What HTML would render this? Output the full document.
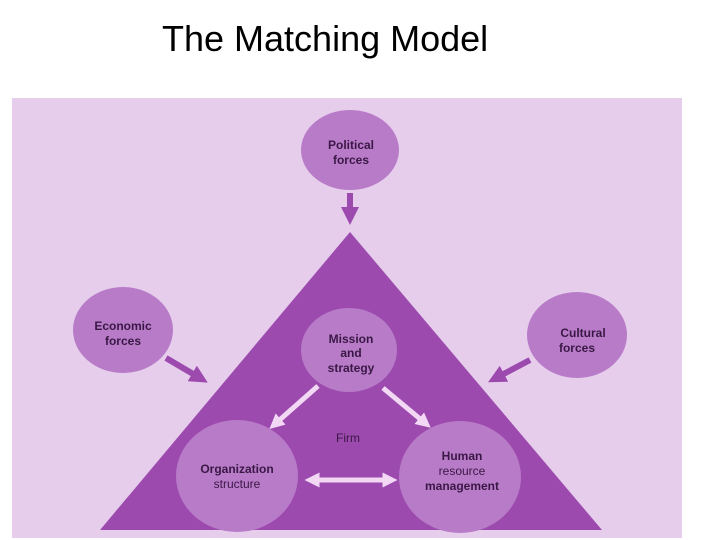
<!DOCTYPE html>
<html><head><style>
html,body{margin:0;padding:0;background:#fff;width:720px;height:540px;overflow:hidden}
.t{position:absolute;left:162px;top:18px;font:36px "Liberation Sans",sans-serif;color:#000}
</style></head><body>
<div class="t">The Matching Model</div>
<svg width="720" height="540" style="position:absolute;left:0;top:0">
<defs>
<marker id="pa" markerWidth="3" markerHeight="3" refX="1.5" refY="1.5" orient="auto"><path d="M0,0L3,1.5L0,3z" fill="#9c4aae"/></marker>
<marker id="la" markerWidth="3" markerHeight="3" refX="1.5" refY="1.5" orient="auto"><path d="M0,0L3,1.5L0,3z" fill="#f2d8f4"/></marker>
<marker id="ls" markerWidth="3" markerHeight="3" refX="1.5" refY="1.5" orient="auto-start-reverse"><path d="M0,0L3,1.5L0,3z" fill="#f2d8f4"/></marker>
</defs>
<rect x="12" y="98" width="670" height="440" fill="#e6cdec"/>
<polygon points="350,232 100,530 602,530" fill="#9c4aae"/>
<g fill="#b87bc8">
<ellipse cx="350" cy="150" rx="49" ry="40"/>
<ellipse cx="123" cy="330" rx="50" ry="43"/>
<ellipse cx="577" cy="335" rx="50" ry="43"/>
<ellipse cx="349" cy="350" rx="48" ry="42"/>
<ellipse cx="237" cy="476" rx="61" ry="56"/>
<ellipse cx="460" cy="477" rx="61" ry="56"/>
</g>
<g stroke="#9c4aae" stroke-width="6" fill="none">
<line x1="350" y1="193" x2="350" y2="216" marker-end="url(#pa)"/>
<line x1="166" y1="358" x2="200" y2="378" marker-end="url(#pa)"/>
<line x1="530" y1="360" x2="496" y2="378" marker-end="url(#pa)"/>
</g>
<g stroke="#f2d8f4" stroke-width="5" fill="none">
<line x1="318" y1="386" x2="275" y2="424" marker-end="url(#la)"/>
<line x1="383" y1="388" x2="425" y2="423" marker-end="url(#la)"/>
<line x1="312" y1="480" x2="390" y2="480" marker-end="url(#la)" marker-start="url(#ls)"/>
</g>
<g font-family="Liberation Sans,sans-serif" font-size="12" font-weight="bold" fill="#3a1845" text-anchor="middle">
<text x="351" y="149">Political</text><text x="351" y="164">forces</text>
<text x="123" y="330">Economic</text><text x="123" y="345">forces</text>
<text x="583" y="337">Cultural</text><text x="577" y="352">forces</text>
<text x="351" y="343">Mission</text><text x="351" y="357">and</text><text x="351" y="372">strategy</text>
<text x="348" y="442" font-weight="normal">Firm</text>
<text x="237" y="473">Organization</text><text x="237" y="488" font-weight="normal">structure</text>
<text x="462" y="460">Human</text><text x="462" y="475" font-weight="normal">resource</text><text x="462" y="490">management</text>
</g>
</svg>
</body></html>
